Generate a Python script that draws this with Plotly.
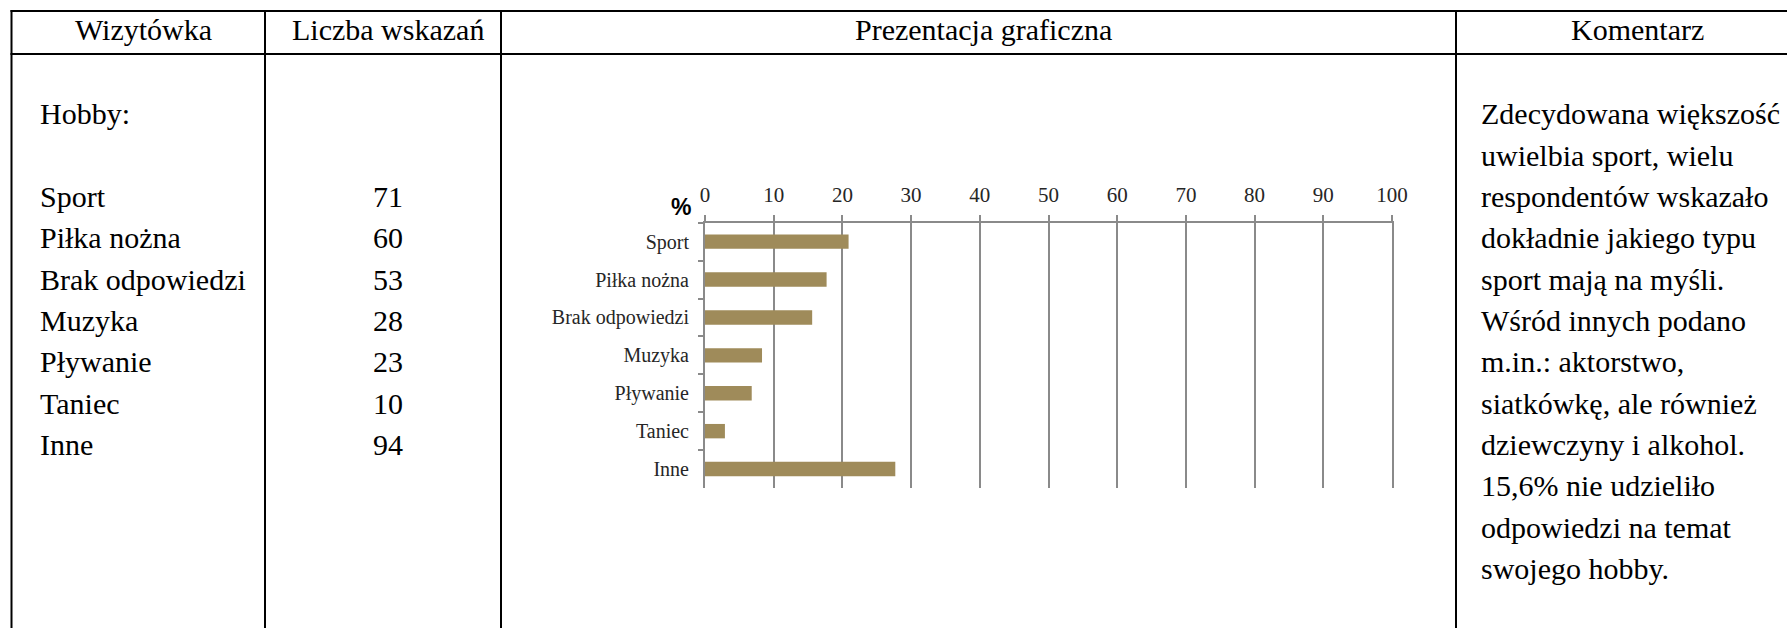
import plotly.graph_objects as go

W, H = 1787, 628

# ---- data ----
headers = ["Wizytówka", "Liczba wskazań", "Prezentacja graficzna", "Komentarz"]
section_title = "Hobby:"
categories = ["Sport", "Piłka nożna", "Brak odpowiedzi", "Muzyka", "Pływanie", "Taniec", "Inne"]
counts = [71, 60, 53, 28, 23, 10, 94]
percents = [20.9, 17.7, 15.6, 8.3, 6.8, 2.9, 27.7]
x_ticks = [0, 10, 20, 30, 40, 50, 60, 70, 80, 90, 100]
comment_lines = [
    "Zdecydowana większość",
    "uwielbia sport, wielu",
    "respondentów wskazało",
    "dokładnie jakiego typu",
    "sport mają na myśli.",
    "Wśród innych podano",
    "m.in.: aktorstwo,",
    "siatkówkę, ale również",
    "dziewczyny i alkohol.",
    "15,6% nie udzieliło",
    "odpowiedzi na temat",
    "swojego hobby.",
]

SERIF = "Liberation Serif"
GRID = "#8a8a8a"
BAR = "#9f8b5a"


def px(x):
    return x / W


def py(y):
    return 1 - y / H


fig = go.Figure()
fig.add_trace(go.Bar(
    x=percents, y=categories, orientation="h",
    marker=dict(color=BAR, line=dict(width=0)),
    width=0.38, hoverinfo="x+y",
))

shapes = []
line_style = dict(color="black", width=2)
for yy in [11, 54]:
    shapes.append(dict(type="line", xref="paper", yref="paper",
                       x0=px(10.5), x1=1, y0=py(yy), y1=py(yy), line=line_style))
for xx in [11.5, 265, 501, 1456]:
    shapes.append(dict(type="line", xref="paper", yref="paper",
                       x0=px(xx), x1=px(xx), y0=py(10), y1=0, line=line_style))

ann = []
body = dict(family=SERIF, size=30, color="black")
header_centers = [143, 388, 983, 1637]
for h, cx in zip(headers, header_centers):
    ann.append(dict(text=h, x=px(cx), y=py(30), xref="paper", yref="paper",
                    xanchor="center", yanchor="middle", showarrow=False, font=body))

pitch = 41.3
y0 = 114
ann.append(dict(text=section_title, x=px(37.5), y=py(y0), xref="paper", yref="paper",
                xanchor="left", yanchor="middle", showarrow=False, font=body))
for i, (c, n) in enumerate(zip(categories, counts)):
    yy = y0 + pitch * (i + 2)
    ann.append(dict(text=c, x=px(37.5), y=py(yy), xref="paper", yref="paper",
                    xanchor="left", yanchor="middle", showarrow=False, font=body))
    ann.append(dict(text=str(n), x=px(388), y=py(yy), xref="paper", yref="paper",
                    xanchor="center", yanchor="middle", showarrow=False, font=body))
for i, line in enumerate(comment_lines):
    yy = y0 + pitch * i
    ann.append(dict(text=line, x=px(1478.5), y=py(yy), xref="paper", yref="paper",
                    xanchor="left", yanchor="middle", showarrow=False, font=body))

ann.append(dict(text="<b>%</b>", x=px(693), y=py(207), xref="paper", yref="paper",
                xanchor="right", yanchor="middle", showarrow=False,
                font=dict(family="Liberation Sans", size=23, color="black")))

fig.update_layout(
    width=W, height=H, autosize=False,
    margin=dict(l=0, r=0, t=0, b=0, autoexpand=False),
    paper_bgcolor="white", plot_bgcolor="white",
    showlegend=False,
    shapes=shapes, annotations=ann,
    xaxis=dict(
        domain=[px(705), px(1392)], range=[0, 100], side="top",
        tickvals=x_ticks, ticktext=[str(t) for t in x_ticks],
        showline=True, linecolor=GRID, linewidth=2,
        ticks="outside", ticklen=6, tickwidth=2, tickcolor=GRID,
        ticklabelstandoff=4,
        showgrid=True, gridcolor=GRID, gridwidth=2, zeroline=False,
        tickfont=dict(family=SERIF, size=21, color="#262626"),
        fixedrange=True,
    ),
    yaxis=dict(
        domain=[py(488), py(222.7)], type="category",
        categoryorder="array", categoryarray=categories, autorange="reversed",
        showline=True, mirror=True, linecolor=GRID, linewidth=2,
        ticks="outside", ticklen=5, tickwidth=2, tickcolor=GRID,
        tickson="boundaries", ticklabelstandoff=10,
        showgrid=False, zeroline=False,
        tickfont=dict(family=SERIF, size=20, color="#262626"),
        fixedrange=True,
    ),
)

fig.write_html(
    "out.html",
    config={"responsive": False, "displayModeBar": False, "staticPlot": True},
    post_script="document.body.style.margin='0';document.body.style.overflow='hidden';",
)
